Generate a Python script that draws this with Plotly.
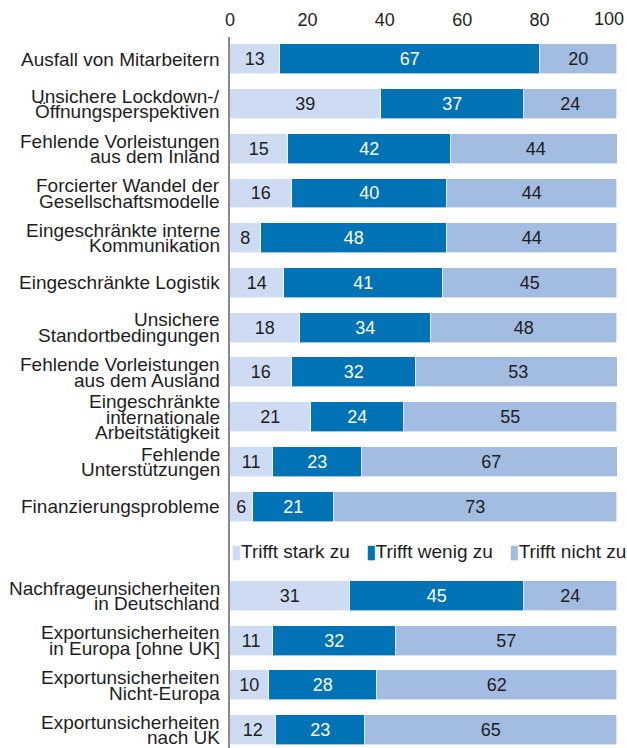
import plotly.graph_objects as go

# ---- data ----
categories_a = [
    "Ausfall von Mitarbeitern",
    "Unsichere Lockdown-/\nÖffnungsperspektiven",
    "Fehlende Vorleistungen\naus dem Inland",
    "Forcierter Wandel der\nGesellschaftsmodelle",
    "Eingeschränkte interne\nKommunikation",
    "Eingeschränkte Logistik",
    "Unsichere\nStandortbedingungen",
    "Fehlende Vorleistungen\naus dem Ausland",
    "Eingeschränkte\ninternationale\nArbeitstätigkeit",
    "Fehlende\nUnterstützungen",
    "Finanzierungsprobleme",
]
categories_b = [
    "Nachfrageunsicherheiten\nin Deutschland",
    "Exportunsicherheiten\nin Europa [ohne UK]",
    "Exportunsicherheiten\nNicht-Europa",
    "Exportunsicherheiten\nnach UK",
]
stark_a = [13, 39, 15, 16, 8, 14, 18, 16, 21, 11, 6]
wenig_a = [67, 37, 42, 40, 48, 41, 34, 32, 24, 23, 21]
nicht_a = [20, 24, 44, 44, 44, 45, 48, 53, 55, 67, 73]
stark_b = [31, 11, 10, 12]
wenig_b = [45, 32, 28, 23]
nicht_b = [24, 57, 62, 65]
series_names = ["Trifft stark zu", "Trifft wenig zu", "Trifft nicht zu"]
x_ticks = [0, 20, 40, 60, 80, 100]

# ---- styling ----
FONT = "Liberation Sans, Arial, Helvetica, sans-serif"
TXT = "#1e1e1e"
colors = ["#CDDCF3", "#0072B6", "#A2BCE2"]
text_colors = [TXT, "white", TXT]

categories = categories_a + categories_b
legend_slot = len(categories_a)
ypos = list(range(len(categories_a))) + [legend_slot + 1 + i for i in range(len(categories_b))]
series = [stark_a + stark_b, wenig_a + wenig_b, nicht_a + nicht_b]

fig = go.Figure()
for name, vals, col, tcol in zip(series_names, series, colors, text_colors):
    fig.add_trace(go.Bar(
        y=ypos, x=vals, orientation="h", name=name,
        marker=dict(color=col, line=dict(color="white", width=0.6)),
        width=0.67,
        text=[str(v) for v in vals], textposition="inside",
        insidetextanchor="middle", textangle=0,
        textfont=dict(family=FONT, size=18, color=tcol),
        constraintext="none",
        showlegend=False, hoverinfo="skip",
    ))

annotations = []
LINE_H = 15.5
for cat, yv in zip(categories, ypos):
    lines = cat.split("\n")
    n = len(lines)
    for i, ln in enumerate(lines):
        annotations.append(dict(
            text=ln, xref="paper", x=0, xanchor="right", xshift=-8,
            yref="y", y=yv, yanchor="middle",
            yshift=((n - 1) / 2 - i) * LINE_H,
            showarrow=False, font=dict(family=FONT, size=19, color=TXT),
        ))

sep = "\u00a0\u00a0\u00a0"
legend_text = sep.join(
    f"<span style='color:{c}'>▮</span>{n}" for n, c in zip(series_names, colors)
)
annotations.append(dict(
    text=legend_text, xref="paper", x=0, xanchor="left", xshift=-1,
    yref="y", y=legend_slot, yanchor="middle", showarrow=False,
    font=dict(family=FONT, size=19, color=TXT),
))

# last tick label is right-aligned at the axis end so it stays inside the page
tick_text = [str(t) for t in x_ticks]
tick_text[-1] = ""
annotations.append(dict(
    text=str(x_ticks[-1]), xref="x", x=x_ticks[-1], xanchor="right", xshift=9,
    yref="paper", y=1, yanchor="middle", yshift=18, showarrow=False,
    font=dict(family=FONT, size=18, color=TXT),
))

fig.update_layout(
    width=627, height=748,
    margin=dict(l=230, r=10, t=37, b=0, autoexpand=False),
    paper_bgcolor="white", plot_bgcolor="white",
    barmode="stack", bargap=0,
    annotations=annotations,
    font=dict(family=FONT, color=TXT),
)
fig.update_xaxes(
    side="top", range=[0, 100], tickvals=x_ticks, ticktext=tick_text,
    showgrid=False, zeroline=False, showline=False, ticks="",
    ticklabelstandoff=6, automargin=False,
    tickfont=dict(family=FONT, size=18, color=TXT), fixedrange=True,
)
fig.update_yaxes(
    range=[15.4, -0.5], showticklabels=False, showgrid=False, zeroline=False,
    showline=True, linecolor="#8a8a8a", linewidth=1.5, ticks="", fixedrange=True,
    automargin=False,
)

fig.write_html(
    "out.html",
    config={"displayModeBar": False},
    post_script="document.body.style.margin='0';document.body.style.overflow='hidden';",
)
